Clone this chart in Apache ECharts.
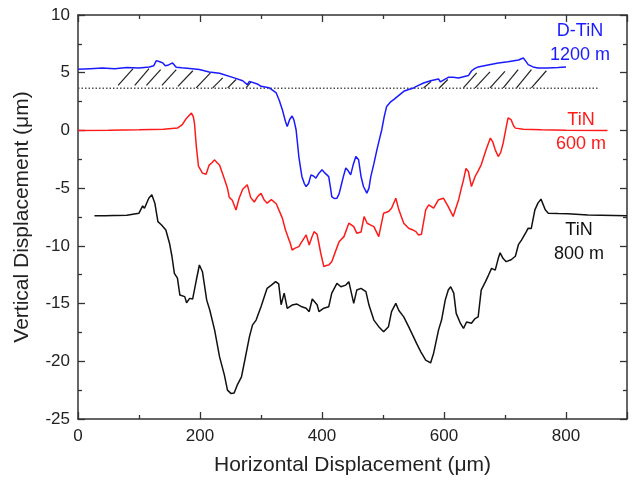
<!DOCTYPE html>
<html>
<head>
<meta charset="utf-8">
<script src="https://cdn.jsdelivr.net/npm/echarts@6/dist/echarts.min.js"></script>
<style>
  html, body { margin: 0; padding: 0; background: #fff; }
  #chart { width: 633px; height: 481px; }
</style>
</head>
<body>
<div id="chart"></div>
<script>
// Surface profiles across the wear track: [horizontal µm, vertical µm]
const dTiN1200 = [
  [0,5.3],[20,5.35],[40,5.4],[60,5.35],[80,5.45],[100,5.4],[117,5.5],[124,5.6],[128.5,6.05],
  [134,5.95],[139,5.85],[143,5.6],[147,5.64],[155,5.85],[161,5.47],[170,5.42],[183,5.36],
  [199,5.27],[215,5.07],[232,4.95],[256,4.55],[270,4.3],[277.5,3.97],[281,4.25],[294,4.03],
  [300,3.82],[313,3.7],[320,3.45],[325,3.25],[330,2.6],[335,1.8],[340,0.8],[343,0.35],
  [347,0.95],[351,1.25],[354,0.9],[357.5,0.06],[360,-1.2],[362,-2.26],[365,-3.3],[367,-3.99],
  [371,-4.6],[374,-4.86],[378,-4.6],[382,-3.85],[386,-3.95],[390,-4.13],[395,-3.7],[400,-3.41],
  [405,-3.7],[411,-4.0],[414,-5.0],[416,-5.73],[420,-5.9],[424.5,-5.87],[428,-5.5],[431,-4.86],
  [435,-4.0],[439,-3.26],[443,-3.5],[447,-3.85],[451,-3.0],[455.5,-2.26],[460,-2.54],
  [464,-4.0],[468,-4.86],[473.5,-5.43],[477,-5.0],[480,-4.0],[485,-2.9],[490,-1.68],
  [494,-0.8],[498,0.06],[502,1.2],[506,2.08],[512,2.45],[517.5,2.67],[525,3.0],[534,3.39],
  [542,3.55],[550,3.68],[558,3.9],[566.5,4.11],[578,4.3],[591,4.46],[594,4.2],[597,4.3],
  [607,4.6],[615,4.6],[624,4.55],[632,4.65],[640,4.75],[645,5.15],[650,5.35],[656,5.5],
  [670,5.65],[689,5.85],[705,5.95],[722,6.1],[730,6.28],[734,6.0],[738,5.7],[746,5.5],
  [754,5.4],[770,5.4],[787,5.45],[800,5.5]
];
const tiN600 = [
  [0,0],[50,0.02],[100,0.05],[140,0.1],[163,0.2],[171,0.5],[177,1.0],[182,1.3],[186,1.5],
  [189,1.2],[191,0.6],[194,-1.4],[197.5,-3.1],[204,-3.7],[210,-3.8],[215,-3.0],[220,-2.78],
  [224,-2.55],[228,-2.8],[232,-3.0],[240,-4.2],[245,-5.0],[248,-5.8],[253,-6.05],[259,-6.9],
  [264,-5.9],[270,-5.1],[277.5,-4.7],[283,-5.8],[289,-6.2],[295,-5.7],[300,-5.45],[305,-6.0],
  [310,-6.3],[317,-6.0],[325,-6.35],[335,-7.6],[340,-8.6],[344,-9.2],[348,-9.77],[351,-10.36],
  [356,-10.2],[362,-10.07],[367,-9.64],[371,-9.3],[374,-9.05],[379,-9.92],[383,-9.3],[387,-8.77],
  [392,-9.0],[398,-10.64],[403,-11.8],[407,-11.7],[411,-11.66],[416,-11.37],[422,-10.5],
  [428,-9.64],[436,-9.2],[444,-8.04],[452,-8.33],[457,-8.9],[464,-8.8],[469,-7.46],[474,-8.04],
  [480,-8.2],[485,-8.33],[493,-9.2],[501,-7.17],[509,-7.03],[514,-6.74],[521,-5.87],[526,-6.88],
  [534,-8.04],[542,-8.47],[548,-8.6],[554,-8.77],[558,-9.05],[563,-9.0],[570,-6.88],[575,-6.45],
  [583,-6.74],[591,-6.0],[599,-5.87],[607,-6.6],[615,-7.46],[619,-6.8],[624,-6.0],[628,-5.1],
  [632,-4.28],[636,-3.3],[640,-3.56],[645,-4.86],[651,-3.99],[656,-3.5],[661,-2.98],
  [669,-1.68],[676,-0.66],[680,-1.0],[684,-1.68],[689,-2.26],[693,-1.9],[697,-1.09],[701,0.0],
  [705,1.08],[710,0.93],[714,0.4],[717,0.2],[730,0.1],[760,0.05],[800,0.02],[868,0.0]
];
const tiN800 = [
  [27,-7.4],[45,-7.4],[58,-7.38],[60,-7.23],[62,-7.38],[80,-7.35],[100,-7.17],[106,-6.54],
  [109,-6.74],[116,-5.87],[121,-5.58],[126,-6.3],[131,-7.9],[137,-8.19],[144,-8.62],[150,-9.77],
  [154,-10.9],[158,-12.38],[163,-12.8],[167,-14.26],[175,-14.4],[178,-14.93],[183,-14.55],
  [188,-14.6],[194,-12.96],[199,-11.66],[204,-12.24],[211,-14.7],[216,-15.56],[224,-17.3],
  [232,-19.6],[240,-21.2],[245,-22.5],[251,-22.8],[256,-22.75],[261,-22.07],[268,-21.35],
  [274,-19.76],[281,-17.88],[286,-16.87],[292,-16.43],[300,-15.28],[310,-13.68],[317,-13.4],
  [324,-13.1],[329,-13.3],[333,-15.1],[338,-14.1],[343,-15.42],[351,-15.13],[359,-15.04],
  [367,-15.28],[374,-15.4],[379,-15.7],[384,-14.6],[392,-15.1],[395,-15.7],[403,-15.4],
  [411,-15.28],[416,-14.1],[424.5,-13.25],[431,-13.54],[439,-13.4],[444,-13.1],[452,-14.98],
  [457,-13.83],[464,-13.68],[472,-13.97],[477,-15.13],[485,-16.43],[493,-17.0],[501,-17.45],
  [509,-17.0],[514,-15.7],[521,-14.98],[526,-15.6],[534,-16.15],[542,-17.0],[550,-17.88],
  [555,-18.45],[562,-19.18],[570,-19.9],[578,-20.14],[583,-19.3],[591,-17.3],[596,-16.43],
  [602,-14.7],[607,-13.83],[611,-13.54],[616,-14.1],[620,-15.85],[627,-16.72],[632,-17.15],
  [637,-16.6],[640,-16.43],[645,-16.7],[651,-16.3],[656,-16.15],[661,-13.83],[668,-13.1],
  [673,-12.53],[678,-11.95],[684,-12.1],[689,-11.08],[692,-10.6],[697,-11.1],[702,-11.37],
  [710,-11.2],[717,-10.9],[722,-9.9],[727,-9.5],[735,-8.77],[738,-8.47],[743,-8.5],
  [749,-6.88],[754,-6.3],[759,-5.95],[766,-6.88],[771,-7.17],[787,-7.2],[803,-7.22],
  [836,-7.32],[900,-7.4]
];
// Reference level of the unworn D-TiN surface
const baseLine = [[0,3.65],[855,3.65]];
// Hatch strokes marking material above the reference level: [x0, y0, x1, y1]
const hatchStrokes = [
  [65.8,3.91,90.3,5.36],[93.1,3.91,116.4,5.36],[112.2,3.91,135.5,5.27],[137.6,3.91,161.1,5.27],
  [163.8,3.82,188.3,5.17],[193.8,3.68,217.1,4.98],[220.9,3.68,237.2,4.55],[245.4,3.68,259.1,4.41],
  [275.4,3.68,283.6,4.2],
  [566.5,3.68,579,4.25],[592.2,3.68,606.2,4.41],[631.8,3.68,653.6,4.98],[651,3.68,675.4,5.07],
  [675.4,3.68,699.9,5.12],[697.1,3.68,721.6,5.27],[718.9,3.68,743.3,5.27],[743.3,3.68,767.8,5.17]
];
const xTicks = { min: 0, max: 900, interval: 200 };
const yTicks = { min: -25, max: 10, interval: 5 };
const curveLabels = [
  { lines: ['D-TiN', '1200 m'], color: '#1a1aff' },
  { lines: ['TiN', '600 m'], color: '#ff1a1a' },
  { lines: ['TiN', '800 m'], color: '#111111' }
];

const FONT = '"Liberation Sans", Arial, Helvetica, sans-serif';
const AXIS_COLOR = '#333';

const chart = echarts.init(document.getElementById('chart'), null, { renderer: 'canvas' });

const frameAxis = (extra) => Object.assign({
  type: 'value',
  axisLine: { show: true, onZero: false, lineStyle: { color: AXIS_COLOR, width: 1.5 } },
  axisTick: { show: true, inside: true, length: 7, lineStyle: { color: AXIS_COLOR, width: 1.3 } },
  minorTick: { show: true, splitNumber: 2, length: 4, lineStyle: { color: AXIS_COLOR, width: 1.3 } },
  splitLine: { show: false },
  minorSplitLine: { show: false }
}, extra);

const labelStyle = { color: '#222', fontSize: 17, fontFamily: FONT };
const nameStyle = { color: '#222', fontSize: 21, fontFamily: FONT };

const option = {
  animation: false,
  backgroundColor: '#fff',
  grid: { left: 78, right: 6, top: 15, bottom: 62, containLabel: false },
  xAxis: [
    frameAxis({
      position: 'bottom', min: xTicks.min, max: xTicks.max, interval: xTicks.interval,
      name: 'Horizontal Displacement (\u03bcm)', nameLocation: 'middle', nameGap: 36,
      nameTextStyle: nameStyle,
      axisLabel: Object.assign({ margin: 9, showMaxLabel: false }, labelStyle)
    }),
    frameAxis({
      position: 'top', min: xTicks.min, max: xTicks.max, interval: xTicks.interval,
      axisLabel: { show: false }
    })
  ],
  yAxis: [
    frameAxis({
      position: 'left', min: yTicks.min, max: yTicks.max, interval: yTicks.interval,
      name: 'Vertical Displacement (\u03bcm)', nameLocation: 'middle', nameGap: 45,
      nameTextStyle: nameStyle,
      axisLabel: Object.assign({ margin: 8 }, labelStyle)
    }),
    frameAxis({
      position: 'right', min: yTicks.min, max: yTicks.max, interval: yTicks.interval,
      axisLabel: { show: false }
    })
  ],
  series: [
    {
      name: 'baseline', type: 'line', data: baseLine, showSymbol: false, silent: true,
      lineStyle: { color: '#555', width: 1.4, type: [1.5, 2] }
    },
    {
      name: 'hatch', type: 'custom', data: hatchStrokes, silent: true,
      renderItem: (params, api) => {
        const p0 = api.coord([api.value(0), api.value(1)]);
        const p1 = api.coord([api.value(2), api.value(3)]);
        return {
          type: 'line',
          shape: { x1: p0[0], y1: p0[1], x2: p1[0], y2: p1[1] },
          style: { stroke: '#222', lineWidth: 1.2 }
        };
      },
      encode: { x: [0, 2], y: [1, 3] }
    },
    {
      name: 'D-TiN 1200 m', type: 'line', data: dTiN1200, showSymbol: false,
      lineStyle: { color: curveLabels[0].color, width: 1.5 }
    },
    {
      name: 'TiN 600 m', type: 'line', data: tiN600, showSymbol: false,
      lineStyle: { color: curveLabels[1].color, width: 1.5 }
    },
    {
      name: 'TiN 800 m', type: 'line', data: tiN800, showSymbol: false,
      lineStyle: { color: curveLabels[2].color, width: 1.5 }
    }
  ],
  graphic: [
    { pos: [580, 43] },
    { pos: [581, 132] },
    { pos: [579, 242] }
  ].map((g, i) => ({
    type: 'text', x: g.pos[0], y: g.pos[1],
    style: {
      text: curveLabels[i].lines.join('\n'), fill: curveLabels[i].color,
      font: '18px ' + FONT, align: 'center', verticalAlign: 'middle', lineHeight: 24
    }
  }))
};

chart.setOption(option);
</script>
</body>
</html>
